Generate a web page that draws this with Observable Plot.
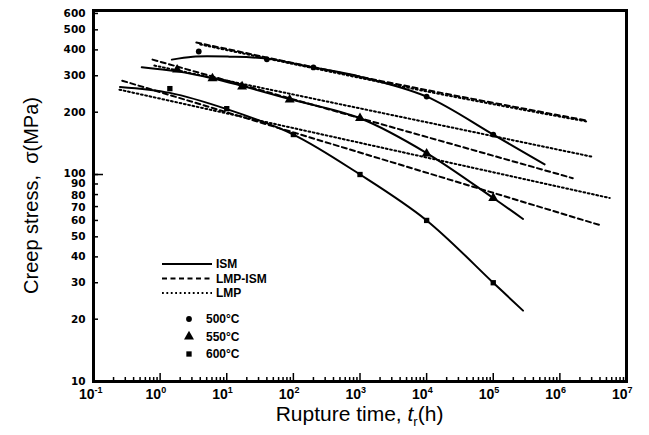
<!DOCTYPE html>
<html><head><meta charset="utf-8">
<script src="https://cdn.jsdelivr.net/npm/d3@7"></script>
<script src="https://cdn.jsdelivr.net/npm/@observablehq/plot@0.6"></script>
<style>
body{margin:0;background:#fff;}
#chart svg{display:block;}
</style></head><body><div id="chart"></div>
<script>
// ---- Data ----
// ISM fitted curves (solid)
const ism500_t = [1.5, 3.1, 11, 40, 200, 1000, 1e4, 1e5, 5.9e5];
const ism500_s = [359, 371, 371, 363, 329, 297, 238, 156, 112];
const ism550_t = [0.53, 1.8, 6, 17, 90, 1000, 1e4, 1e5, 2.8e5];
const ism550_s = [330, 315, 292, 268, 231, 187, 127, 77, 61];
const ism600_t = [0.25, 1.4, 10, 100, 1000, 1e4, 1e5, 2.8e5];
const ism600_s = [265, 248, 207, 156, 100, 60, 30, 22];
// LMP-ISM lines (dashed)
const lmpism500_t = [3.5, 200, 1e4, 2.6e6];
const lmpism500_s = [434, 330, 256, 182];
const lmpism550_t = [0.77, 1.56e6];
const lmpism550_s = [359, 96];
const lmpism600_t = [0.27, 3.96e6];
const lmpism600_s = [284, 57];
// LMP lines (dotted)
const lmp500_t = [4, 1e4, 2.6e6];
const lmp500_s = [425, 252, 180];
const lmp550_t = [0.82, 3.0e6];
const lmp550_s = [336, 122];
const lmp600_t = [0.245, 5.6e6];
const lmp600_s = [257, 77];
// Experimental points
const pts500_t = [3.8, 40, 200, 1e4, 1e5];
const pts500_s = [393, 360, 329, 238, 156];
const pts550_t = [1.8, 6.1, 17, 88, 1e3, 1e4, 1e5];
const pts550_s = [321, 291, 266, 230, 187, 126, 77];
const pts600_t = [1.4, 10, 100, 1e3, 1e4, 1e5];
const pts600_s = [260, 208, 156, 100, 60, 30];
// Axis ticks
const xMajor = [1e-1, 1, 10, 100, 1e3, 1e4, 1e5, 1e6, 1e7];
const xExp = ["-1", "0", "1", "2", "3", "4", "5", "6", "7"];
const yTicks = [10, 20, 30, 40, 50, 60, 70, 80, 90, 100, 200, 300, 400, 500, 600];
const yMajor = [10, 100];
const legendLines = ["ISM", "LMP-ISM", "LMP"];
const legendTemps = ["500\u00B0C", "550\u00B0C", "600\u00B0C"];

const xMinor = [];
for (let e = -1; e < 7; e++) for (let m = 2; m <= 9; m++) xMinor.push(m * Math.pow(10, e));

const rows = (ts, ss) => ts.map((t, i) => ({t, s: ss[i]}));
// small vertical nudges so the crowded labels near 100 do not collide
const yNudge = {100: -1.2, 80: 0.6, 70: 0.6};

const lineW = 2;
const dash = "5,3.5";
const dot = "1.8,2.6";
const tickFont = "'DejaVu Sans', sans-serif";
const xFont = "'Liberation Sans', Arial, sans-serif";
const rC = 2.9, rT = 3.7, rS = 3.0;

const chart = Plot.plot({
  width: 649, height: 435,
  marginLeft: 93, marginRight: 23, marginTop: 10, marginBottom: 54,
  style: {background: "white", color: "black"},
  x: {type: "log", domain: [0.1, 1e7]},
  y: {type: "log", domain: [10, 620]},
  marks: [
    Plot.line(rows(ism500_t, ism500_s), {x: "t", y: "s", curve: "catmull-rom", strokeWidth: lineW, stroke: "black"}),
    Plot.line(rows(ism550_t, ism550_s), {x: "t", y: "s", curve: "catmull-rom", strokeWidth: lineW, stroke: "black"}),
    Plot.line(rows(ism600_t, ism600_s), {x: "t", y: "s", curve: "catmull-rom", strokeWidth: lineW, stroke: "black"}),
    Plot.line(rows(lmpism500_t, lmpism500_s), {x: "t", y: "s", curve: "catmull-rom", strokeWidth: lineW, stroke: "black", strokeDasharray: dash}),
    Plot.line(rows(lmpism550_t, lmpism550_s), {x: "t", y: "s", strokeWidth: lineW, stroke: "black", strokeDasharray: dash}),
    Plot.line(rows(lmpism600_t, lmpism600_s), {x: "t", y: "s", strokeWidth: lineW, stroke: "black", strokeDasharray: dash}),
    Plot.line(rows(lmp500_t, lmp500_s), {x: "t", y: "s", curve: "catmull-rom", strokeWidth: lineW, stroke: "black", strokeDasharray: dot}),
    Plot.line(rows(lmp550_t, lmp550_s), {x: "t", y: "s", strokeWidth: lineW, stroke: "black", strokeDasharray: dot}),
    Plot.line(rows(lmp600_t, lmp600_s), {x: "t", y: "s", strokeWidth: lineW, stroke: "black", strokeDasharray: dot}),
    Plot.dot(rows(pts500_t, pts500_s), {x: "t", y: "s", symbol: "circle", r: rC, fill: "black", stroke: "none"}),
    Plot.dot(rows(pts550_t, pts550_s), {x: "t", y: "s", symbol: "triangle", r: rT, fill: "black", stroke: "none"}),
    Plot.dot(rows(pts600_t, pts600_s), {x: "t", y: "s", symbol: "square", r: rS, fill: "black", stroke: "none"}),
    Plot.axisX({ticks: xMinor, tickSize: -4, tickFormat: () => "", label: null, strokeWidth: 1.5}),
    Plot.axisX({ticks: xMajor, tickSize: -8, tickFormat: () => "", label: null, strokeWidth: 1.5}),
    Plot.axisY({ticks: yTicks, tickSize: -5, tickFormat: () => "", label: null, strokeWidth: 1.5}),
    Plot.axisY({ticks: yMajor, tickSize: -10, tickFormat: () => "", label: null, strokeWidth: 1.5}),
    ...yTicks.map(v => Plot.text([v], {y: d => d, frameAnchor: "left", dx: -8, dy: yNudge[v] || 0, textAnchor: "end", text: d => String(d), fontSize: 10.5, fontWeight: "bold", fontFamily: tickFont})),
    Plot.text(xMajor, {x: d => d, frameAnchor: "bottom", dy: 17, dx: 1, textAnchor: "end", text: () => "10", fontSize: 14, fontWeight: "bold", fontFamily: xFont}),
    Plot.text(xMajor.map((d, i) => ({d, e: xExp[i]})), {x: "d", frameAnchor: "bottom", dy: 11, dx: 1, textAnchor: "start", text: "e", fontSize: 9, fontWeight: "bold", fontFamily: xFont}),
    Plot.frame({stroke: "black", strokeWidth: 3})
  ]
});

document.getElementById("chart").appendChild(chart);

const svgSel = d3.select(chart);
const pLeft = 93, pRight = 626, pTop = 10, pBottom = 381;

const xt = svgSel.append("text")
  .attr("x", (pLeft + pRight) / 2).attr("y", 421)
  .attr("text-anchor", "middle")
  .attr("font-family", "'Liberation Sans', Arial, sans-serif")
  .attr("font-size", 21).attr("fill", "black");
xt.append("tspan").text("Rupture time, ");
xt.append("tspan").attr("font-style", "italic").text("t");
xt.append("tspan").attr("font-size", 13).attr("dy", 5).text("r");
xt.append("tspan").attr("dy", -5).text("(h)");

svgSel.append("text")
  .attr("transform", `translate(38,${(pTop + pBottom) / 2}) rotate(-90)`)
  .attr("text-anchor", "middle")
  .attr("font-family", "'Liberation Sans', Arial, sans-serif")
  .attr("font-size", 20).attr("fill", "black")
  .text("Creep stress,  \u03C3(MPa)");

const lg = svgSel.append("g")
  .attr("font-family", xFont).attr("text-anchor", "start")
  .attr("font-weight", "bold").attr("font-size", 12).attr("fill", "black");
const dashes = [null, dash, dot];
legendLines.forEach((name, i) => {
  const yy = 264 + i * 14.5;
  lg.append("line").attr("x1", 162).attr("x2", 212).attr("y1", yy).attr("y2", yy)
    .attr("stroke", "black").attr("stroke-width", 2)
    .attr("stroke-dasharray", dashes[i]);
  lg.append("text").attr("x", 216).attr("y", yy).attr("dy", "0.35em").attr("text-anchor", "start").text(name);
});
const syms = [d3.symbolCircle, d3.symbolTriangle, d3.symbolSquare];
const sizes = [Math.PI * rC * rC, Math.PI * rT * rT, Math.PI * rS * rS];
legendTemps.forEach((name, i) => {
  const yy = 319 + i * 17.5;
  lg.append("path").attr("d", d3.symbol(syms[i], sizes[i])()).attr("transform", `translate(189,${yy})`).attr("fill", "black");
  lg.append("text").attr("x", 206).attr("y", yy).attr("dy", "0.35em").attr("text-anchor", "start").text(name);
});
</script>
</body></html>
